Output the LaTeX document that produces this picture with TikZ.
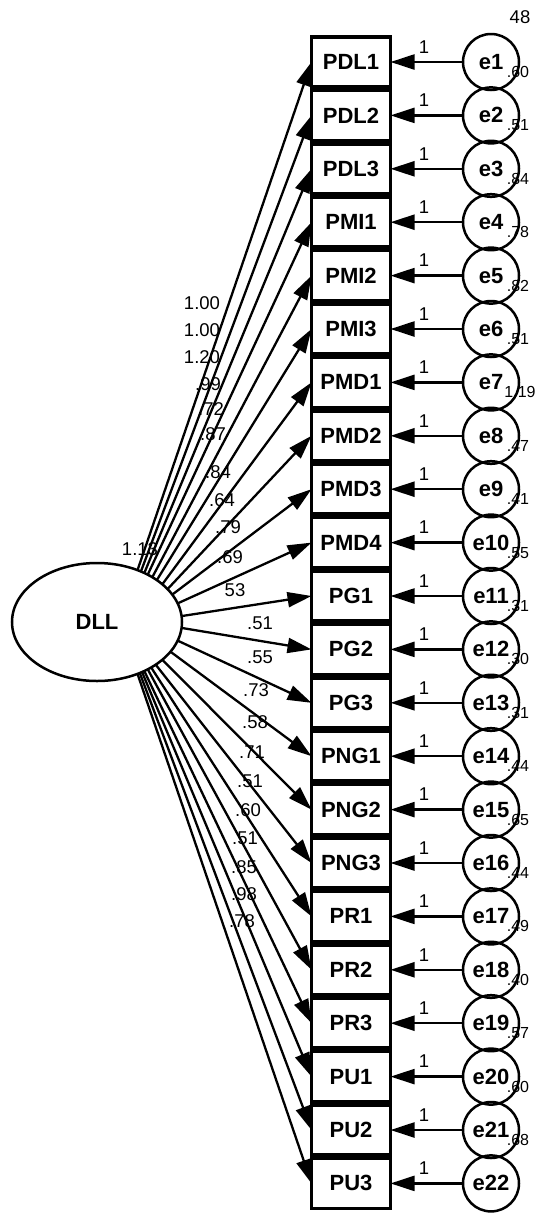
\documentclass[tikz,border=0pt]{standalone}
\usepackage{fontspec}
\setmainfont{Liberation Sans}
\usetikzlibrary{arrows.meta,shapes.geometric}

\begin{document}
\begin{tikzpicture}[x=1pt,y=-1pt,
  obs/.style={draw,line width=3.5pt,minimum width=79pt,minimum height=50pt,
    inner sep=0pt,outer sep=0pt,font=\fontsize{22}{22}\selectfont\bfseries},
  err/.style={draw,circle,line width=2.5pt,minimum size=56pt,inner sep=0pt,
    outer sep=0pt,font=\fontsize{22}{22}\selectfont\bfseries},
  lat/.style={draw,ellipse,line width=2.5pt,minimum width=170pt,minimum height=118pt,
    inner sep=0pt,outer sep=0pt,font=\fontsize{22}{22}\selectfont\bfseries},
  link/.style={line width=2.3pt,-{Triangle[length=24pt,width=15pt]}},
  lbl/.style={font=\fontsize{18.5}{18.5}\selectfont,inner sep=0pt},
  var/.style={font=\fontsize{16}{16}\selectfont,inner sep=0pt}
]
\useasboundingbox (0,0) rectangle (539,1213);

% latent factor
\node[lat] (DLL) at (97,622) {DLL};
\node[lbl] (vDLL) at (140,549) {1.13};
\node[lbl] (top) at (520,17) {48};

% indicators and their error terms
\foreach \n [count=\i from 0] in {PDL1,PDL2,PDL3,PMI1,PMI2,PMI3,PMD1,PMD2,PMD3,PMD4,
    PG1,PG2,PG3,PNG1,PNG2,PNG3,PR1,PR2,PR3,PU1,PU2,PU3} {
  \pgfmathtruncatemacro{\j}{\i+1}
  \node[obs] (v\i) at (351,{62+53.4*\i}) {\n};
  \node[err] (e\j) at (491,{62+53.4*\i}) {e\j};
  \draw[link] (e\j) -- (v\i);
  \node[lbl] (one\j) at (424,{47+53.4*\i}) {1};
}

% error variances
\foreach \t [count=\j] in {.60,.51,.84,.78,.82,.51,1.19,.47,.41,.55,.31,.30,.31,.44,.65,.44,.49,.40,.57,.60,.68} {
  \node[var] (ev\j) at ({\j==7 ? 520 : 518},{72+53.4*(\j-1)}) {\t};
}

% loading labels
\foreach \x/\y/\t [count=\k] in {202/303/1.00,202/330/1.00,202/357/1.20,208/384/.99,
    211/409/.72,213/434/.87,218/472/.84,222/500/.64,228/527/.79,230/557/.69,
    235/590/53,260/623/.51,260/657/.55,256/690/.73,255/722/.58,252/752/.71,
    250/781/.51,248/810/.60,245/838/.51,244/867/.85,244/894/.98,242/921/.78} {
  \node[lbl] (w\k) at (\x,\y) {\t};
}

% factor loadings
\foreach \a [count=\i from 0] in {52,49,46,43,39,35,30,25,20,13,4,-4,-13,-22,-30,-36,-40,-43,-46,-48,-50,-52} {
  \draw[link] (DLL.\a) -- (v\i.west);
}
\end{tikzpicture}
\end{document}
